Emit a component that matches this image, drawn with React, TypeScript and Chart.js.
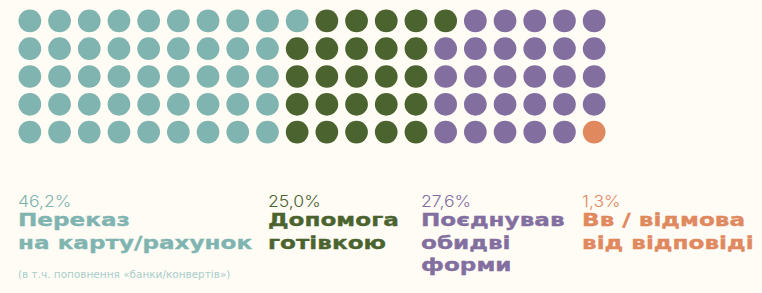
import React, { useEffect, useRef } from "react";
import { Chart, registerables } from "chart.js";

Chart.register(...registerables);

const categories = ["Переказ на карту/рахунок", "Допомога готівкою", "Поєднував обидві форми", "Вв / відмова від відповіді"];
const titleLines = [
  ["Переказ", "на карту/рахунок"],
  ["Допомога", "готівкою"],
  ["Поєднував", "обидві", "форми"],
  ["Вв / відмова", "від відповіді"],
];
const percentLabels = ["46,2%", "25,0%", "27,6%", "1,3%"];
const dotCounts = [46, 25, 28, 1];
const colors = ["#80B4B0", "#4B632E", "#826FA0", "#E0885E"];
const footnote = "(в т.ч. поповнення «банки/конвертів»)";
const gridRows = 5;
const gridCols = 20;

const BG = "#FFFCF5";

function buildDatasets() {
  let idx = 0;
  return categories.map((cat, ci) => {
    const pts: { x: number; y: number }[] = [];
    for (let k = 0; k < dotCounts[ci]; k++) {
      pts.push({ x: Math.floor(idx / gridRows), y: idx % gridRows });
      idx++;
    }
    return {
      label: cat,
      data: pts,
      backgroundColor: colors[ci],
      borderWidth: 0,
      pointRadius: 11.35,
      pointHoverRadius: 11.35,
    };
  });
}

const colLeft = [18, 268, 421, 582];
const CW = 594;
const CH = 139;

export default function App() {
  const ref = useRef<HTMLCanvasElement | null>(null);
  useEffect(() => {
    if (!ref.current) return;
    const chart = new Chart(ref.current, {
      type: "scatter",
      data: { datasets: buildDatasets() as any },
      options: {
        animation: false,
        responsive: false,
        devicePixelRatio: 1,
        events: [],
        layout: { padding: 0, autoPadding: false } as any,
        plugins: { legend: { display: false }, tooltip: { enabled: false } },
        scales: {
          x: { type: "linear", display: false, min: -0.5, max: gridCols - 0.5 },
          y: { type: "linear", display: false, min: -0.5, max: gridRows - 0.5, reverse: true },
        },
        elements: { point: { borderWidth: 0 } },
        clip: false as any,
      },
    });
    return () => chart.destroy();
  }, []);

  return (
    <div style={{ position: "fixed", left: 0, top: 0, width: 762, height: 293, background: BG, overflow: "hidden" }}>
      <canvas
        ref={ref}
        width={CW}
        height={CH}
        style={{ position: "absolute", left: 15, top: 7.4, width: CW, height: CH }}
      />
      {categories.map((c, i) => (
        <React.Fragment key={c}>
          <div
            style={{
              position: "absolute",
              left: colLeft[i],
              top: 193,
              fontFamily: "Inter, 'DejaVu Sans', sans-serif",
              fontWeight: 300,
              fontSize: 16,
              lineHeight: "16px",
              color: colors[i],
              whiteSpace: "nowrap",
              transform: "scaleX(1.1)",
              transformOrigin: "left top",
            }}
          >
            {percentLabels[i]}
          </div>
          <div
            style={{
              position: "absolute",
              left: colLeft[i],
              top: 209.3,
              fontFamily: "'DejaVu Sans', sans-serif",
              fontWeight: 700,
              fontSize: 18.5,
              lineHeight: "22.5px",
              color: colors[i],
              whiteSpace: "nowrap",
              transform: "scaleX(1.25)",
              transformOrigin: "left top",
              WebkitTextStroke: `0.35px ${colors[i]}`,
            }}
          >
            {titleLines[i].map((l) => (
              <div key={l}>{l}</div>
            ))}
          </div>
        </React.Fragment>
      ))}
      <div
        style={{
          position: "absolute",
          left: 17.5,
          top: 269.5,
          fontFamily: "'DejaVu Sans', sans-serif",
          fontSize: 10,
          lineHeight: "10px",
          color: "#A8CCCA",
          whiteSpace: "nowrap",
          transform: "scaleX(1.047)",
          transformOrigin: "left top",
        }}
      >
        {footnote}
      </div>
    </div>
  );
}
